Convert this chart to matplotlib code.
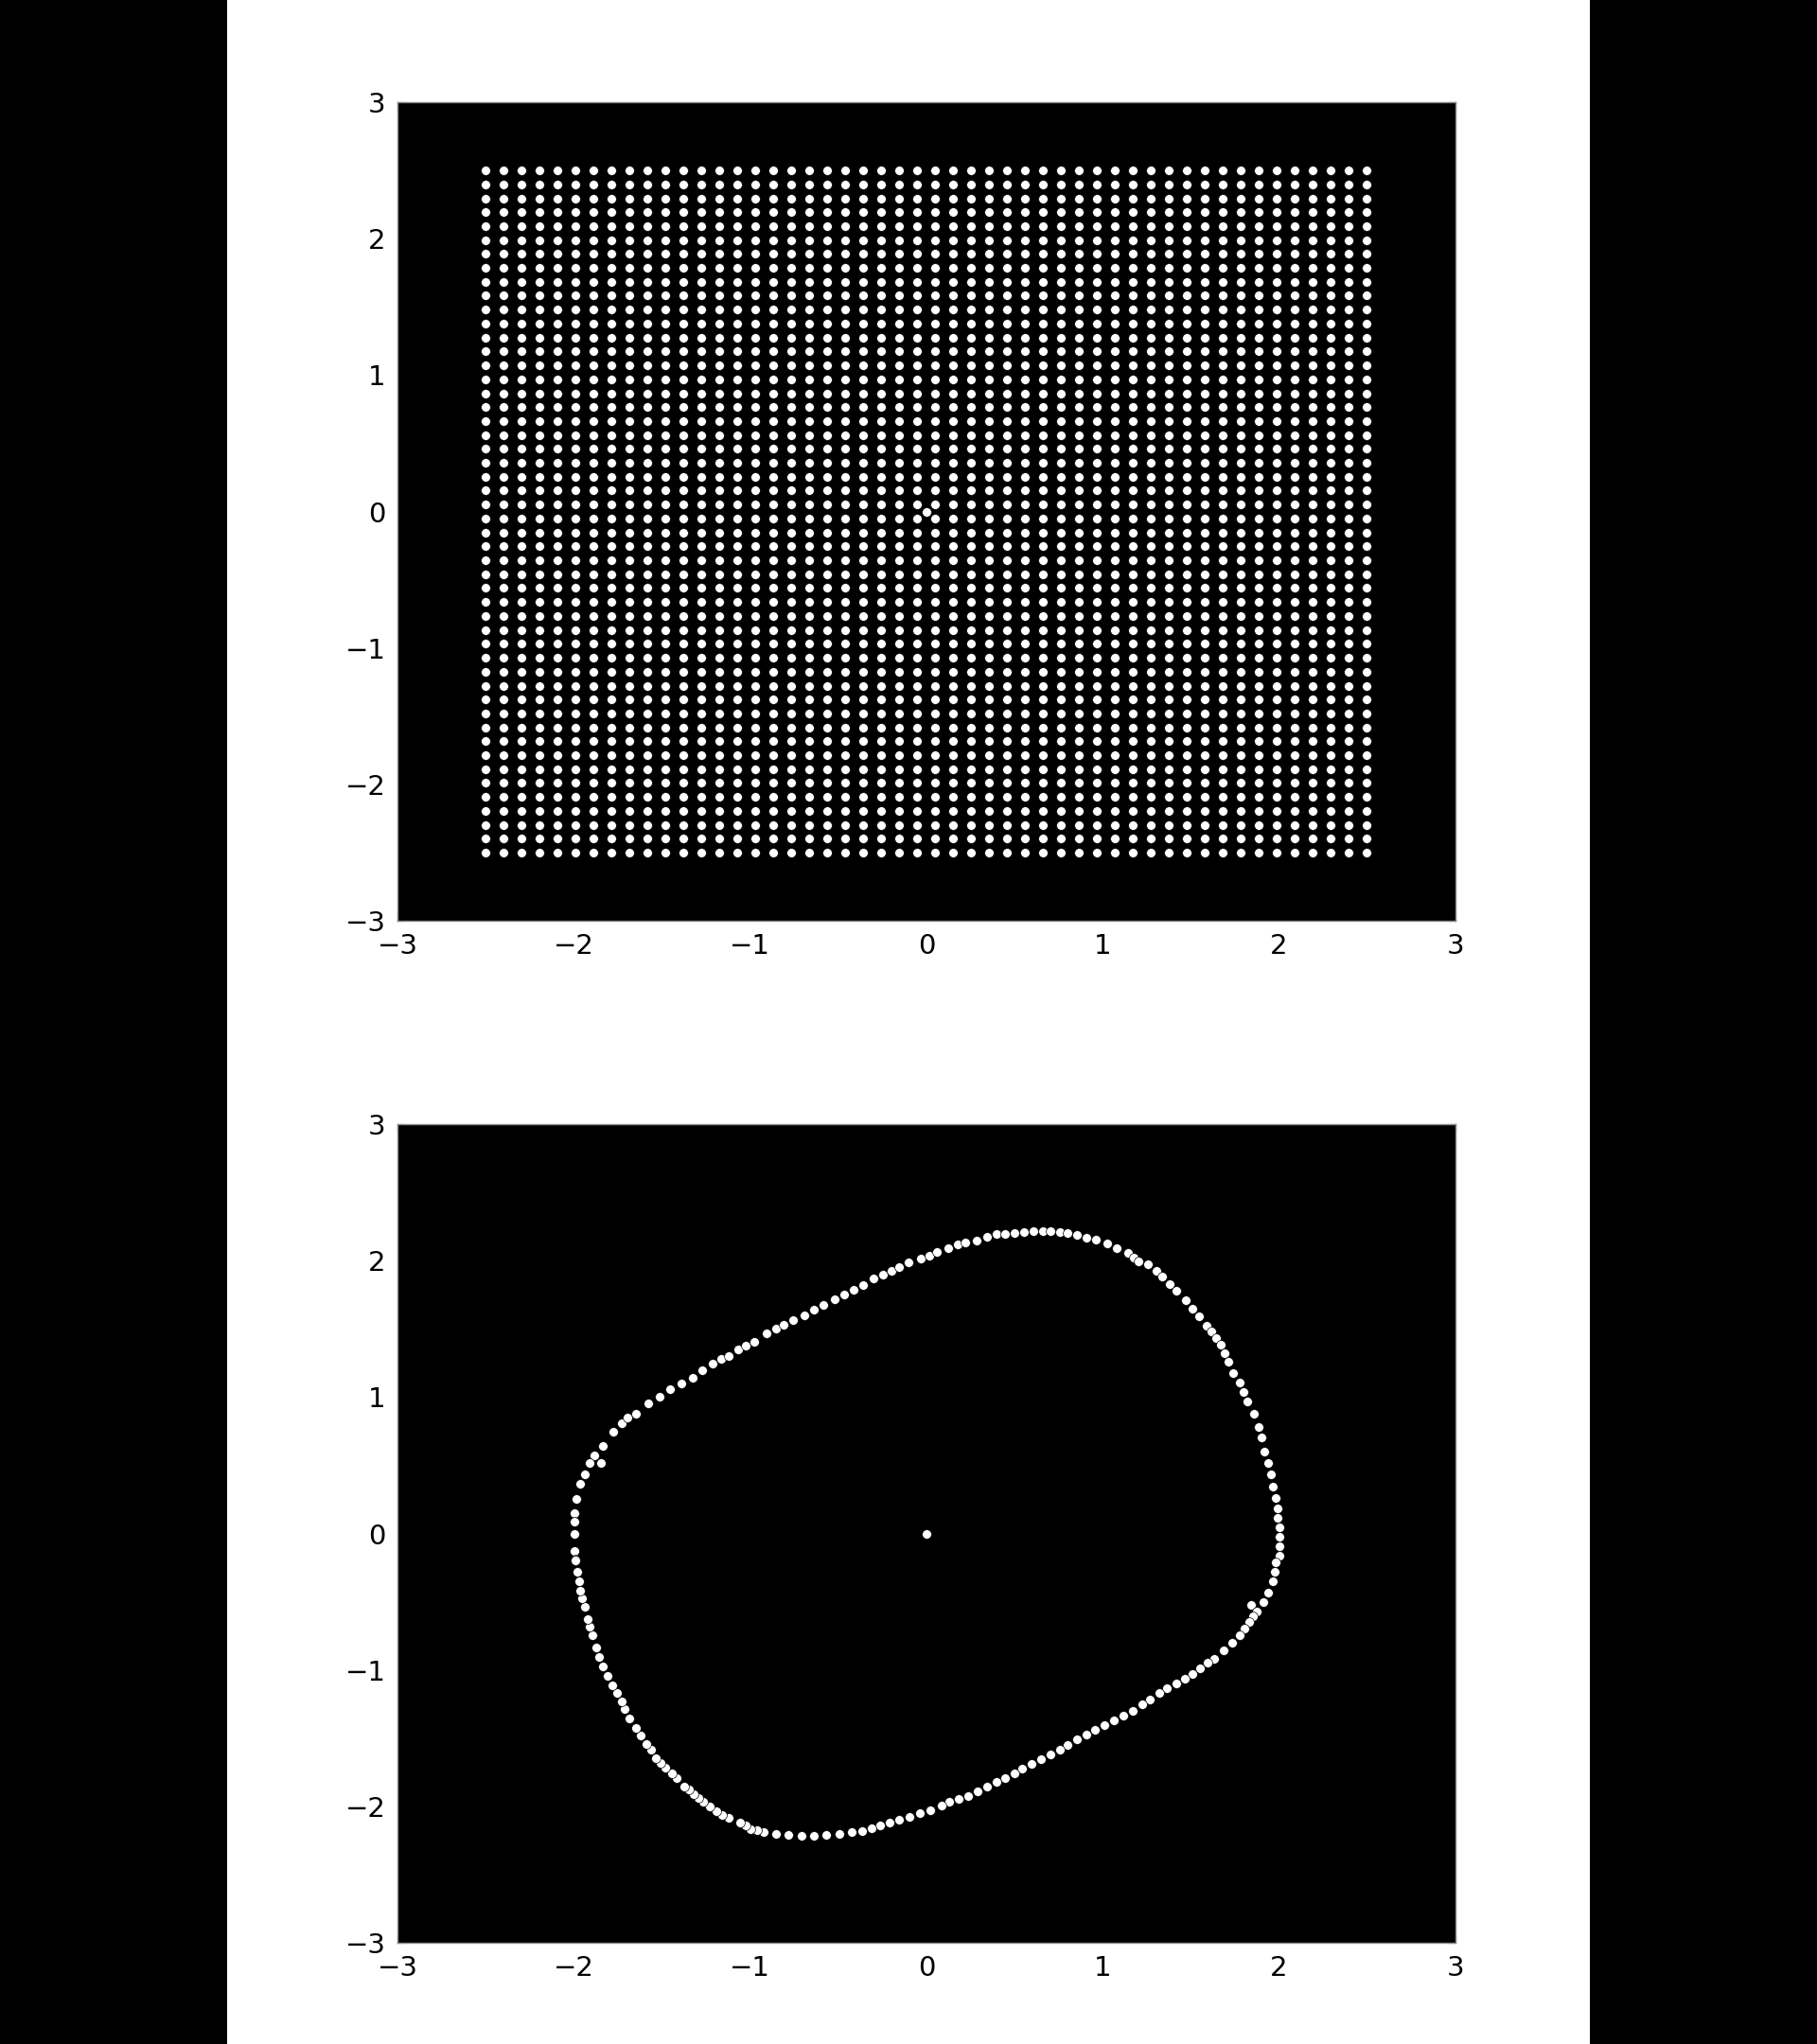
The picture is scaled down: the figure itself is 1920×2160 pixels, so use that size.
import numpy as np
import matplotlib
matplotlib.use("Agg")
import matplotlib.pyplot as plt
from matplotlib.patches import Rectangle

# ---- data ----
grid_vals = [-2.5, -2.398, -2.296, -2.194, -2.092, -1.990, -1.888, -1.786, -1.684, -1.582,
             -1.480, -1.378, -1.276, -1.173, -1.071, -0.969, -0.867, -0.765, -0.663, -0.561,
             -0.459, -0.357, -0.255, -0.153, -0.051,
             0.051, 0.153, 0.255, 0.357, 0.459, 0.561, 0.663, 0.765, 0.867, 0.969,
             1.071, 1.173, 1.276, 1.378, 1.480, 1.582, 1.684, 1.786, 1.888, 1.990,
             2.092, 2.194, 2.296, 2.398, 2.5]
fixed_x = [0.0]
fixed_y = [0.0]

# points on the limit cycle (x, y)
cycle_points = [
    # upper-left
    (-1.730, 0.806), (-1.774, 0.748), (-1.837, 0.644), (-1.882, 0.575), (-1.909, 0.517),
    (-1.846, 0.517), (-1.935, 0.436), (-1.962, 0.367), (-1.984, 0.251), (-1.998, 0.147),
    (-1.998, 0.090), (-1.998, -0.003), (-1.994, -0.130), (-1.989, -0.188),
    # upper-left arc
    (-1.694, 0.853), (-1.649, 0.880), (-1.578, 0.957), (-1.515, 1.003), (-1.452, 1.061),
    (-1.390, 1.102), (-1.327, 1.141), (-1.273, 1.199), (-1.211, 1.245), (-1.166, 1.280),
    (-1.121, 1.303), (-1.068, 1.350), (-1.023, 1.380), (-0.978, 1.407), (-0.907, 1.465),
    (-0.853, 1.500), (-0.808, 1.527), (-0.755, 1.564), (-0.692, 1.597), (-0.638, 1.638),
    (-0.585, 1.678), (-0.522, 1.719), (-0.468, 1.754), (-0.415, 1.789), (-0.361, 1.819),
    # top
    (-0.298, 1.870), (-0.245, 1.897), (-0.200, 1.925), (-0.155, 1.951), (-0.102, 1.985),
    (-0.030, 2.013), (0.015, 2.036), (0.059, 2.066), (0.122, 2.089), (0.176, 2.119),
    (0.220, 2.130), (0.283, 2.150), (0.346, 2.175), (0.399, 2.193), (0.444, 2.196),
    (0.498, 2.205), (0.552, 2.212), (0.605, 2.216), (0.659, 2.216), (0.704, 2.216),
    (0.757, 2.212), (0.802, 2.200),
    # upper-right
    (0.856, 2.189), (0.909, 2.170), (0.963, 2.152), (1.026, 2.124), (1.080, 2.089),
    (1.142, 2.055), (1.175, 2.025), (1.205, 1.997), (1.258, 1.974), (1.303, 1.927),
    (1.339, 1.881), (1.380, 1.830), (1.419, 1.777), (1.473, 1.708), (1.509, 1.650),
    (1.545, 1.592), (1.589, 1.523), (1.616, 1.478), (1.643, 1.430), (1.670, 1.384),
    (1.693, 1.320), (1.715, 1.257), (1.741, 1.176), (1.777, 1.107), (1.800, 1.040),
    (1.822, 0.968), (1.858, 0.876), (1.885, 0.783), (1.902, 0.702), (1.920, 0.598),
    (1.938, 0.517), (1.956, 0.436), (1.965, 0.344), (1.983, 0.263), (1.992, 0.182),
    (1.992, 0.113), (2.001, 0.043), (2.001, -0.026), (2.001, -0.095), (2.001, -0.165),
    # right
    (1.983, -0.211), (1.974, -0.280), (1.965, -0.350), (1.938, -0.430), (1.911, -0.500),
    (1.840, -0.523), (1.876, -0.569), (1.855, -0.610), (1.831, -0.650), (1.805, -0.700),
    (1.777, -0.742), (1.733, -0.800), (1.688, -0.858),
    # lower-right arc
    (1.634, -0.916), (1.598, -0.946), (1.554, -0.985), (1.509, -1.031), (1.464, -1.066),
    (1.419, -1.101), (1.366, -1.136), (1.321, -1.170), (1.267, -1.216), (1.223, -1.251),
    (1.169, -1.297), (1.115, -1.332), (1.062, -1.367), (1.008, -1.401), (0.954, -1.441),
    (0.910, -1.471), (0.856, -1.510), (0.802, -1.552), (0.757, -1.586), (0.704, -1.621),
    (0.650, -1.656), (0.596, -1.690), (0.543, -1.725), (0.498, -1.760), (0.444, -1.794),
    (0.400, -1.817), (0.346, -1.852), (0.292, -1.887), (0.239, -1.921), (0.185, -1.945),
    (0.131, -1.968),
    # bottom
    (0.086, -1.995), (0.024, -2.026), (-0.039, -2.049), (-0.093, -2.075), (-0.155, -2.095),
    (-0.209, -2.118), (-0.260, -2.140), (-0.310, -2.160), (-0.365, -2.178),
    (-0.423, -2.187), (-0.495, -2.203), (-0.567, -2.210), (-0.638, -2.217), (-0.710, -2.217),
    (-0.781, -2.210), (-0.853, -2.199), (-0.924, -2.187), (-0.960, -2.176), (-0.996, -2.164),
    (-1.023, -2.141), (-1.059, -2.118), (-1.121, -2.083), (-1.157, -2.060), (-1.193, -2.037),
    (-1.229, -2.002), (-1.264, -1.968), (-1.291, -1.940), (-1.318, -1.910), (-1.345, -1.875),
    (-1.372, -1.852), (-1.416, -1.794), (-1.443, -1.760), (-1.479, -1.713), (-1.506, -1.679),
    (-1.533, -1.644), (-1.560, -1.586), (-1.586, -1.540), (-1.622, -1.482), (-1.649, -1.424),
    (-1.685, -1.355), (-1.712, -1.286), (-1.730, -1.228), (-1.756, -1.170), (-1.783, -1.112),
    (-1.810, -1.043), (-1.837, -0.974), (-1.855, -0.904), (-1.873, -0.835), (-1.894, -0.742),
    (-1.909, -0.685), (-1.923, -0.627), (-1.935, -0.534), (-1.953, -0.477), (-1.962, -0.419),
    (-1.971, -0.350), (-1.980, -0.280), (-1.989, -0.199),
]
cycle_x = [p[0] for p in cycle_points]
cycle_y = [p[1] for p in cycle_points]

ticks = [-3, -2, -1, 0, 1, 2, 3]

# ---- figure ----
fig = plt.figure(figsize=(19.2, 21.6), dpi=100, facecolor="white")
for x0 in (0.0, 0.875):
    fig.patches.append(Rectangle((x0, 0.0), 0.125, 1.0, transform=fig.transFigure,
                                 facecolor="black", edgecolor="none"))

gx, gy = np.meshgrid(grid_vals, grid_vals)

def style(ax):
    ax.set_facecolor("black")
    ax.set_xlim(-3, 3)
    ax.set_ylim(-3, 3)
    ax.set_xticks(ticks)
    ax.set_yticks(ticks)
    ax.tick_params(direction="in", length=6, color="black", labelsize=21, pad=9,
                   top=True, right=True)
    for s in ax.spines.values():
        s.set_color("#888888")
        s.set_linewidth(1.0)

mk = dict(s=50, c="white", edgecolors="black", linewidths=0.5)

ax1 = fig.add_axes([0.21875, 0.5495, 0.5821, 0.4005])
style(ax1)
ax1.scatter(gx.ravel(), gy.ravel(), **mk)
ax1.scatter(fixed_x, fixed_y, **mk)

ax2 = fig.add_axes([0.21875, 0.0495, 0.5821, 0.4005])
style(ax2)
ax2.scatter(cycle_x, cycle_y, **mk)
ax2.scatter(fixed_x, fixed_y, **mk)

fig.savefig("out.png", dpi=100, facecolor=fig.get_facecolor())
